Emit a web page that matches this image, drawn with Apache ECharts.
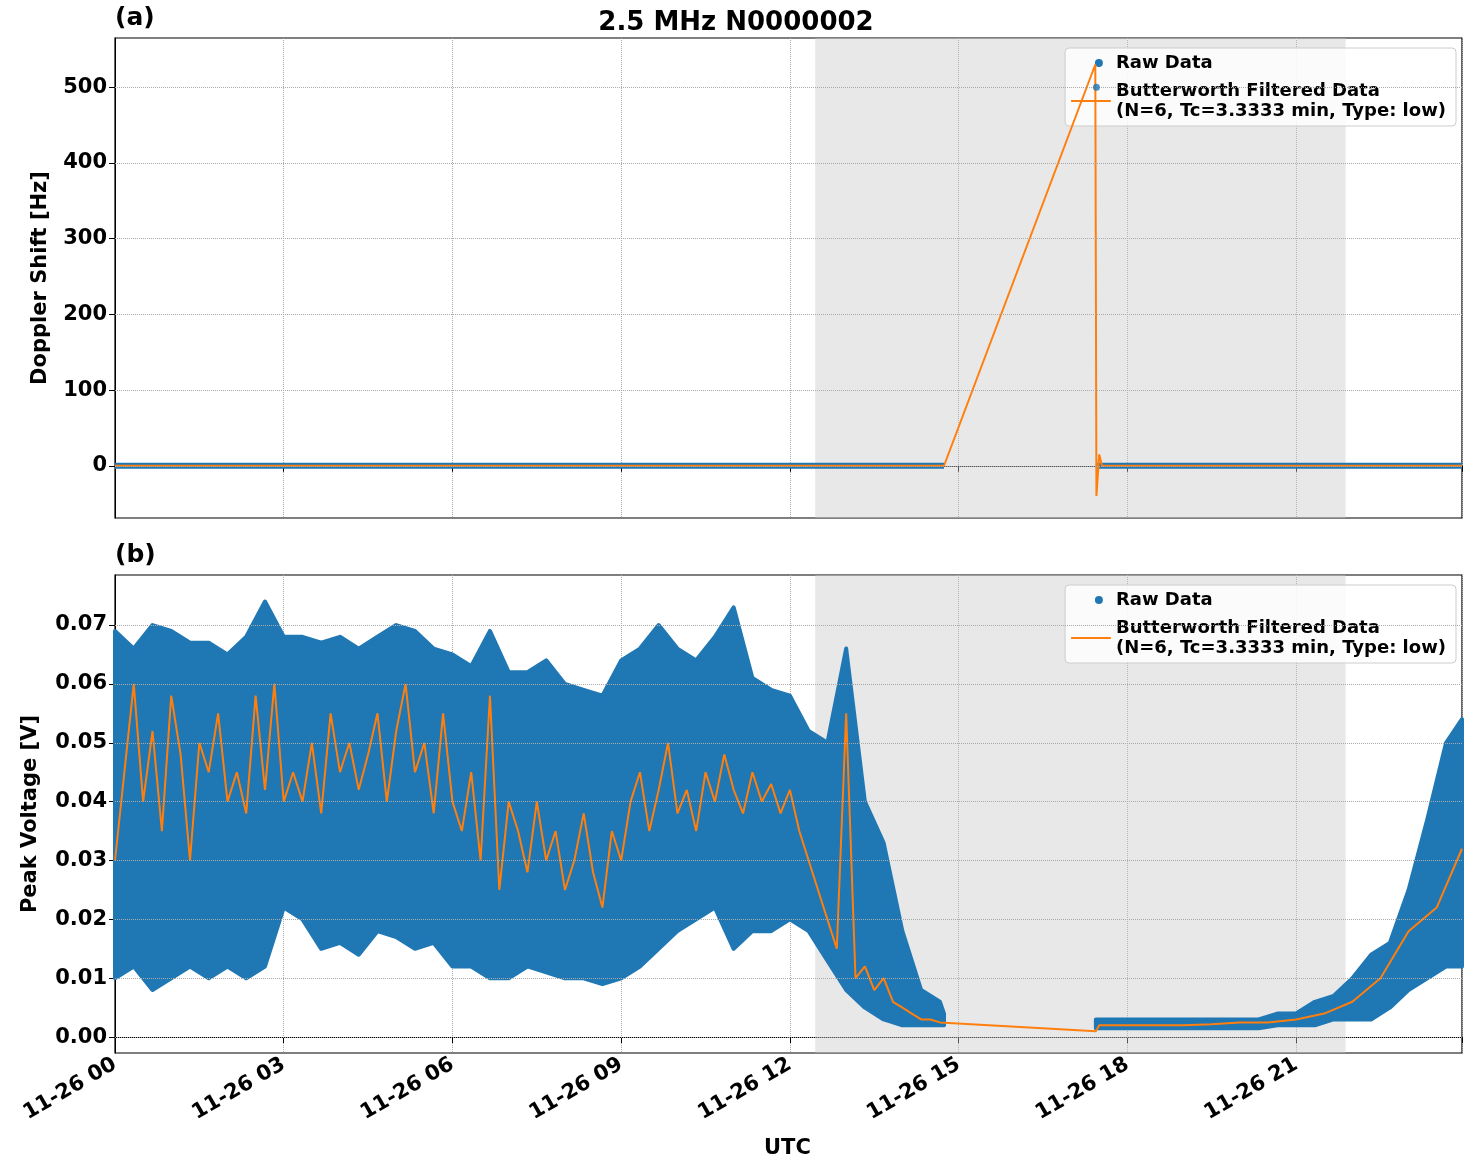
<!DOCTYPE html>
<html><head><meta charset="utf-8">
<script src="https://cdn.jsdelivr.net/npm/echarts@6/dist/echarts.min.js"></script>
<style>html,body{margin:0;padding:0;background:#fff}#c{width:1472px;height:1172px}</style>
</head><body><div id="c"></div>
<script>
// ---- data ----
const xTicks = [0,3,6,9,12,15,18,21];
const shadeStart = 12.45, shadeEnd = 21.88;
// Panel (a) Doppler shift
const rawA = [[0,0],[14.74,0],null,[17.44,0],[23.95,0]];
const rawAOutlier = [[17.45,500]];
const filtA = [[0,0],[14.74,0],[17.43,530],[17.45,-40],[17.5,15],[17.55,0],[23.95,0]];
const yTicksA = [0,100,200,300,400,500];
// Panel (b) raw envelope every 20 min (hours 0..24), plus gap edge at 17.44
const envTimes = Array.from({length:73},(_,i)=>i/3);
const rawUpperB = [0.069,0.066,0.070,0.069,0.067,0.067,0.065,0.068,0.074,0.068,0.068,0.067,0.068,0.066,0.068,0.070,0.069,0.066,0.065,0.063,0.069,0.062,0.062,0.064,0.060,0.059,0.058,0.064,0.066,0.070,0.066,0.064,0.068,0.073,0.061,0.059,0.058,0.052,0.050,0.066,0.040,0.033,0.018,0.008,0.006,null,null,null,null,null,null,null,null,0.003,0.003,0.003,0.003,0.003,0.003,0.003,0.003,0.003,0.004,0.004,0.006,0.007,0.010,0.014,0.016,0.025,0.037,0.050,0.054];
const rawLowerB = [0.010,0.012,0.008,0.010,0.012,0.010,0.012,0.010,0.012,0.022,0.020,0.015,0.016,0.014,0.018,0.017,0.015,0.016,0.012,0.012,0.010,0.010,0.012,0.011,0.010,0.010,0.009,0.010,0.012,0.015,0.018,0.020,0.022,0.015,0.018,0.018,0.020,0.018,0.013,0.008,0.005,0.003,0.002,0.002,0.002,null,null,null,null,null,null,null,null,0.0015,0.0015,0.0015,0.0015,0.0015,0.0015,0.0015,0.0015,0.0015,0.002,0.002,0.002,0.003,0.003,0.003,0.005,0.008,0.010,0.012,0.012];
const gapEdgeTimes = [14.74, 17.44];
const gapEdgeUpper = [0.004, 0.003];
const gapEdgeLower = [0.002, 0.0015];
// Panel (b) filtered line
const filtTimesB1 = Array.from({length:89},(_,i)=>i/6);
const filtValuesB1 = [0.030,0.045,0.060,0.040,0.052,0.035,0.058,0.048,0.030,0.050,0.045,0.055,0.040,0.045,0.038,0.058,0.042,0.060,0.040,0.045,0.040,0.050,0.038,0.055,0.045,0.050,0.042,0.048,0.055,0.040,0.052,0.060,0.045,0.050,0.038,0.055,0.040,0.035,0.045,0.030,0.058,0.025,0.040,0.035,0.028,0.040,0.030,0.035,0.025,0.030,0.038,0.028,0.022,0.035,0.030,0.040,0.045,0.035,0.042,0.050,0.038,0.042,0.035,0.045,0.040,0.048,0.042,0.038,0.045,0.040,0.043,0.038,0.042,0.035,0.030,0.025,0.020,0.015,0.055,0.010,0.012,0.008,0.010,0.006,0.005,0.004,0.003,0.003,0.0025];
const filtTimesB2 = [17.44,17.5,18,18.5,19,19.5,20,20.5,21,21.5,22,22.5,23,23.5,23.95];
const filtValuesB2 = [0.001,0.002,0.002,0.002,0.002,0.0022,0.0025,0.0025,0.003,0.004,0.006,0.010,0.018,0.022,0.032];
const yTicksB = [0,0.01,0.02,0.03,0.04,0.05,0.06,0.07];

const BLUE='#1f77b4', ORANGE='#ff7f0e', FONT='DejaVu Sans';
const filtB = filtTimesB1.map((t,i)=>[t,filtValuesB1[i]]).concat(filtTimesB2.map((t,i)=>[t,filtValuesB2[i]]));
const envSegs = [];
let cur = [];
envTimes.forEach((t,i)=>{
  if (rawUpperB[i]==null) { if (cur.length) envSegs.push(cur); cur=[]; }
  else cur.push([Math.min(t,23.95),rawLowerB[i],rawUpperB[i]]);
});
if (cur.length) envSegs.push(cur);
envSegs[0].push([gapEdgeTimes[0],gapEdgeLower[0],gapEdgeUpper[0]]);
envSegs[1].unshift([gapEdgeTimes[1],gapEdgeLower[1],gapEdgeUpper[1]]);

const chart = echarts.init(document.getElementById('c'));
const grid = (top,h)=>({left:115,top,width:1347,height:h,show:true,borderColor:'#000',borderWidth:1.2,backgroundColor:'transparent'});
const xAx = (gi,lab)=>({type:'value',gridIndex:gi,min:0,max:23.95,interval:3,
  axisLine:{lineStyle:{color:'#000'}},axisTick:{length:6,lineStyle:{color:'#000'}},
  splitLine:{show:true,lineStyle:{type:'dotted',color:'#aaa'}},
  axisLabel:{show:lab,rotate:30,fontFamily:FONT,fontWeight:'bold',fontSize:21,color:'#000',margin:10,
    formatter:v=>(Math.abs(v%3)>1e-6||v>23)?'':'11-26 '+String(v).padStart(2,'0')}});
const dotted = vals=>({silent:true,symbol:'none',label:{show:false},lineStyle:{type:'dotted',color:'#aaa',width:1},data:vals.map(v=>({yAxis:v}))});
const LINEICON='path://M0,0L0.1,0L0.1,0.1Z M0,7L40,7L40,9L0,9Z M0,16L0.1,16L0.1,16.1Z';
const LN='Butterworth Filtered Data\n(N=6, Tc=3.3333 min, Type: low)';
const legendCfg = (top)=>({orient:'vertical',right:16,top,backgroundColor:'rgba(255,255,255,0.85)',borderColor:'#ccc',borderWidth:1,borderRadius:4,padding:[5,10,5,6],itemGap:8,
  textStyle:{fontFamily:FONT,fontWeight:'bold',fontSize:18,color:'#000',lineHeight:20},itemWidth:40,itemHeight:16,
  data:[{name:'Raw Data',icon:'path://M0,0L0.1,0L0.1,0.1Z M20,4A4,4 0 1 1 19.99,4Z M0,16L0.1,16L0.1,16.1Z'},{name:LN,icon:LINEICON}]});
chart.setOption({
  animation:false,
  title:[{text:'2.5 MHz N0000002',left:'center',top:5,textStyle:{fontFamily:FONT,fontWeight:'bold',fontSize:26,color:'#000'}}],
  graphic:[
    {type:'text',left:115,top:6,style:{text:'(a)',font:'bold 25px "DejaVu Sans"',fill:'#000'}},
    {type:'text',left:115,top:543,style:{text:'(b)',font:'bold 25px "DejaVu Sans"',fill:'#000'}},
    {type:'text',left:764,top:1138,style:{text:'UTC',font:'bold 21px "DejaVu Sans"',fill:'#000'}}
  ],
  legend:[legendCfg(48),legendCfg(585)],
  grid:[grid(38,480),grid(575,478)],
  xAxis:[xAx(0,false),xAx(1,true)],
  yAxis:[
    {type:'value',gridIndex:0,min:-69,max:565,name:'Doppler Shift [Hz]',nameLocation:'middle',nameGap:64,
     nameTextStyle:{fontFamily:FONT,fontWeight:'bold',fontSize:21,color:'#000'},
     axisLine:{show:true,lineStyle:{color:'#000'}},axisTick:{show:true,customValues:yTicksA,length:6,lineStyle:{color:'#000'}},splitLine:{show:false},
     axisLabel:{customValues:yTicksA,fontFamily:FONT,fontWeight:'bold',fontSize:21,color:'#000'}},
    {type:'value',gridIndex:1,min:-0.0027,max:0.0785,name:'Peak Voltage [V]',nameLocation:'middle',nameGap:74,
     nameTextStyle:{fontFamily:FONT,fontWeight:'bold',fontSize:21,color:'#000'},
     axisLine:{show:true,lineStyle:{color:'#000'}},axisTick:{show:true,customValues:yTicksB,length:6,lineStyle:{color:'#000'}},splitLine:{show:false},
     axisLabel:{customValues:yTicksB,fontFamily:FONT,fontWeight:'bold',fontSize:21,color:'#000',formatter:v=>v.toFixed(2)}}
  ],
  series:[
    {type:'line',name:'shadeA',xAxisIndex:0,yAxisIndex:0,data:[],markLine:dotted(yTicksA),
     markArea:{silent:true,itemStyle:{color:'rgba(200,200,200,0.42)'},data:[[{xAxis:shadeStart},{xAxis:shadeEnd}]]}},
    {type:'line',name:'Raw Data',xAxisIndex:0,yAxisIndex:0,data:rawA,showSymbol:false,connectNulls:false,color:BLUE,lineStyle:{width:6,color:BLUE},itemStyle:{color:BLUE},z:3},
    {type:'scatter',name:'Raw Data',xAxisIndex:0,yAxisIndex:0,data:rawAOutlier,symbolSize:7,itemStyle:{color:BLUE},z:5},
    {type:'line',name:LN,xAxisIndex:0,yAxisIndex:0,data:filtA,showSymbol:false,color:ORANGE,lineStyle:{width:2,color:ORANGE},itemStyle:{color:ORANGE},z:4},
    {type:'line',name:'shadeB',xAxisIndex:1,yAxisIndex:1,data:[],markLine:dotted(yTicksB),
     markArea:{silent:true,itemStyle:{color:'rgba(200,200,200,0.42)'},data:[[{xAxis:shadeStart},{xAxis:shadeEnd}]]}},
    {type:'custom',name:'Raw Data',xAxisIndex:1,yAxisIndex:1,color:BLUE,itemStyle:{color:BLUE},z:3,
     data:envSegs.map((s,i)=>[s[0][0],i]),
     renderItem:(params,api)=>{
       const seg = envSegs[params.dataIndex];
       const pts = seg.map(p=>api.coord([p[0],p[2]])).concat(seg.slice().reverse().map(p=>api.coord([p[0],p[1]])));
       return {type:'polygon',shape:{points:pts},style:{fill:BLUE,stroke:BLUE,lineWidth:4,lineJoin:'round'}};
     }},
    {type:'line',name:LN,xAxisIndex:1,yAxisIndex:1,data:filtB,showSymbol:false,color:ORANGE,lineStyle:{width:2,color:ORANGE},z:4}
  ]
});
</script></body></html>
